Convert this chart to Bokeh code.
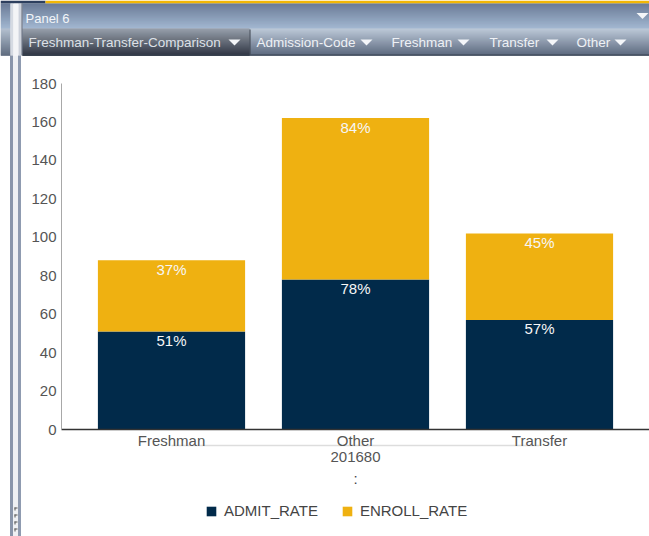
from bokeh.plotting import figure
from bokeh.models import (ColumnDataSource, Range1d, FixedTicker, Legend, LegendItem)
from bokeh.embed import file_html
from bokeh.resources import INLINE
from bokeh.core.properties import value

# ---------------- data ----------------
categories = ["Freshman", "Other", "Transfer"]
admit_rate = [51, 78, 57]
enroll_rate = [37, 84, 45]
y_ticks = [0, 20, 40, 60, 80, 100, 120, 140, 160, 180]
series_names = ["ADMIT_RATE", "ENROLL_RATE"]
group_label = "201680"
panel_title = "Panel 6"
menu_items = ["Freshman-Transfer-Comparison", "Admission-Code", "Freshman", "Transfer", "Other"]

# ---------------- layout / styles ----------------
NAVY = "#012a4a"
GOLD = "#efb111"
FONT = "Liberation Sans"
W, H = 649, 536
PLOT_LEFT, PLOT_TOP, PLOT_BOTTOM = 61, 83, 429      # pixel box of the value axis
FIRST_CENTER, STEP = 171, 184                       # pixel centre of first category, spacing
Y_MIN, Y_MAX = y_ticks[0], y_ticks[-1]

px_per_unit = (PLOT_BOTTOM - PLOT_TOP) / (Y_MAX - Y_MIN)
y_lo = Y_MIN - (H - PLOT_BOTTOM) / px_per_unit
y_hi = Y_MAX + PLOT_TOP / px_per_unit
x_lo = (0 - FIRST_CENTER) / STEP
x_hi = (W - FIRST_CENTER) / STEP
x_axis_left = (PLOT_LEFT - FIRST_CENTER) / STEP


def hex2rgb(c):
    c = c.lstrip("#")
    return tuple(int(c[i:i + 2], 16) for i in (0, 2, 4))


def lerp(c1, c2, t):
    a, b = hex2rgb(c1), hex2rgb(c2)
    return "#%02x%02x%02x" % tuple(int(round(a[i] + (b[i] - a[i]) * t)) for i in range(3))


p = figure(x_range=Range1d(x_lo, x_hi), y_range=Range1d(y_lo, y_hi), width=W, height=H,
           output_backend="svg", toolbar_location=None, min_border=0,
           outline_line_color=None, background_fill_color="white", border_fill_color="white")
p.extra_x_ranges = {"px": Range1d(0, W)}
p.extra_y_ranges = {"px": Range1d(H, 0)}


def quads(rows):
    L, R, T, B, C = zip(*rows)
    p.quad(left=list(L), right=list(R), top=list(T), bottom=list(B), color=list(C),
           line_color=None, x_range_name="px", y_range_name="px")


def grad_rows(x0, x1, y0, y1, c0, c1):
    n = int(y1 - y0)
    return [(x0, x1, y0 + i, y0 + i + 1.3, lerp(c0, c1, i / max(1, n - 1))) for i in range(n)]


# ---------------- panel chrome (header + menu bar + neighbour edge) ----------------
rows = [(0, 45, 0, 3, "#2d3f5e"), (45, W, 0, 3, "#f2b705")]
rows += grad_rows(22, W, 3, 28, "#566a88", "#94abc9")        # panel header
rows += grad_rows(22, W, 28, 55, "#b2c0d2", "#46556d")       # menu bar
rows += grad_rows(22, 249, 28, 55, "#9198a3", "#2b313c")     # active menu item
rows += [(22, W, 54, 55, "#36414f"), (249, 250, 29, 54, "#3a404b")]
rows += grad_rows(0, 10, 3, 28, "#566a88", "#94abc9")
rows += grad_rows(0, 10, 28, 55, "#a8b6c8", "#4a596f")
rows += [(10, 13, 3, 55, "#d5dae2"), (13, 18, 3, 55, "#f3f4f6"),
         (18, 21, 3, 55, "#cdd2db"), (21, 22, 3, 55, "#4c576a")]
rows += [(9.5, 12.5, 55, H, "#8995aa"), (12.5, 17.5, 55, H, "#eef0f3"), (17.5, 20.5, 55, H, "#8f9bb0")]
for gy in [507, 514, 521, 528]:
    rows += [(14, 17, gy, gy + 1, "#555555"), (14, 15, gy, gy + 3, "#555555")]
quads(rows)

p.text(x=[25], y=[17.5], text=[panel_title], text_align="left", text_baseline="middle",
       text_color="#f2f5f9", text_font=value(FONT), text_font_size="13px",
       x_range_name="px", y_range_name="px")
menu_x = [28, 256, 391, 489, 576]
p.text(x=menu_x, y=[42] * len(menu_x), text=menu_items, text_align="left", text_baseline="middle",
       text_color=["#dde1e7"] + ["#eef1f5"] * (len(menu_x) - 1), text_font=value(FONT),
       text_font_size="13.5px", x_range_name="px", y_range_name="px")
tri_x = [234, 366, 463, 552, 620, 642]
tri_y = [42, 42, 42, 42, 42, 15.5]
p.patches(xs=[[cx - 6, cx + 6, cx] for cx in tri_x], ys=[[cy - 3, cy - 3, cy + 3] for cy in tri_y],
          color="#f4f6f9", line_color=None, x_range_name="px", y_range_name="px")

# ---------------- bars ----------------
cat_idx = list(range(len(categories)))
src = ColumnDataSource(dict(x=cat_idx, ADMIT_RATE=admit_rate, ENROLL_RATE=enroll_rate))
rends = p.vbar_stack(series_names, x="x", width=0.8, color=[NAVY, GOLD], line_color=None, source=src)

lab_src = ColumnDataSource(dict(
    x=cat_idx + cat_idx,
    y=admit_rate + [a + e for a, e in zip(admit_rate, enroll_rate)],
    txt=["%d%%" % a for a in admit_rate] + ["%d%%" % e for e in enroll_rate],
))
p.text(x="x", y="y", text="txt", source=lab_src, text_align="center", text_baseline="middle",
       y_offset=9, text_color="#f6f6f6", text_font=value(FONT), text_font_size="15px")

# light group separator under the category labels
p.segment(x0=[cat_idx[0]], x1=[cat_idx[-1]], y0=[445], y1=[445], line_color="#dddddd",
          line_width=1.5, y_range_name="px")

# ":" under the group label
p.text(x=[cat_idx[len(cat_idx) // 2]], y=[478], text=[":"], text_align="center",
       text_baseline="middle", text_color="#444444", text_font=value(FONT),
       text_font_size="15px", y_range_name="px")

p.grid.visible = False

# ---------------- axes ----------------
p.yaxis.fixed_location = x_axis_left
p.yaxis.bounds = (Y_MIN, Y_MAX)
p.yaxis.ticker = FixedTicker(ticks=y_ticks)
p.yaxis.axis_line_color = "#a8a8a8"
p.yaxis.major_tick_line_color = None
p.yaxis.minor_tick_line_color = None
p.yaxis.major_tick_out = 0
p.yaxis.major_label_standoff = 5
p.yaxis.major_label_text_font = FONT
p.yaxis.major_label_text_font_size = "15px"
p.yaxis.major_label_text_color = "#555555"

p.xaxis.fixed_location = Y_MIN
p.xaxis.bounds = (x_axis_left, x_hi)
p.xaxis.ticker = FixedTicker(ticks=cat_idx)
p.xaxis.major_label_overrides = {i: c for i, c in zip(cat_idx, categories)}
p.xaxis.axis_line_color = "#333333"
p.xaxis.axis_line_width = 1.5
p.xaxis.major_tick_line_color = None
p.xaxis.minor_tick_line_color = None
p.xaxis.major_tick_out = 0
p.xaxis.major_label_standoff = 2
p.xaxis.major_label_text_font = FONT
p.xaxis.major_label_text_font_size = "15px"
p.xaxis.major_label_text_color = "#555555"
p.xaxis.axis_label = group_label
p.xaxis.axis_label_standoff = 0
p.xaxis.axis_label_text_font = FONT
p.xaxis.axis_label_text_font_size = "15px"
p.xaxis.axis_label_text_font_style = "normal"
p.xaxis.axis_label_text_color = "#555555"

legend = Legend(items=[LegendItem(label=n, renderers=[r]) for n, r in zip(series_names, rends)],
                orientation="horizontal", location=(205, 17), border_line_color=None,
                background_fill_alpha=0, glyph_width=12, glyph_height=12, label_height=16,
                label_text_font=FONT, label_text_font_size="15px", label_text_color="#444444",
                spacing=23, label_standoff=7, padding=0, margin=0)
p.add_layout(legend, "center")

open("out.html", "w").write(file_html(p, INLINE))
